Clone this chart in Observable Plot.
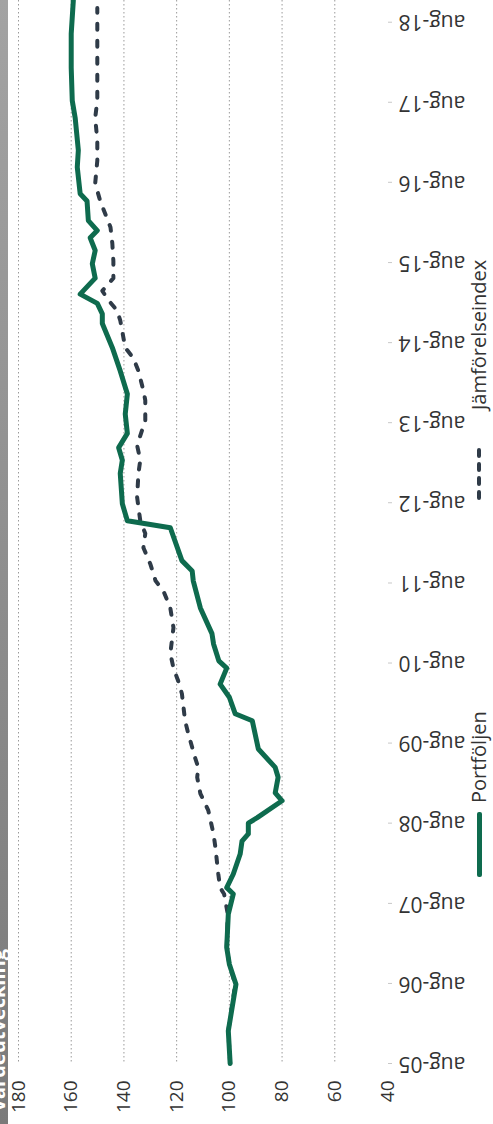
<!DOCTYPE html>
<html><head><meta charset="utf-8">
<script src="https://cdn.jsdelivr.net/npm/d3@7"></script>
<script src="https://cdn.jsdelivr.net/npm/@observablehq/plot@0.6"></script>
<style>
html,body{margin:0;padding:0;background:#fff;overflow:hidden;}
#wrap{position:relative;width:493px;height:1124px;font-family:"Open Sans",sans-serif;color:#333;}
#chart{position:absolute;left:0;top:0;}
#titlebar{position:absolute;left:0;top:0;width:8px;height:1124px;background:linear-gradient(#a3a3a3,#7a7a7a);overflow:hidden;z-index:3;}
#titlebar span{position:absolute;left:-15px;top:1112px;transform-origin:0 0;transform:rotate(-90deg);font-size:20px;line-height:26px;font-weight:bold;color:#fff;white-space:nowrap;}
.leg{position:absolute;transform-origin:0 0;transform:rotate(-90deg);display:flex;align-items:center;height:24px;white-space:nowrap;font-size:20px;line-height:24px;color:#333;}
svg [aria-label="y-axis tick"]{stroke:#c8c8c8;}
</style></head>
<body><div id="wrap">
<div id="chart"></div>
<div id="titlebar"><span>Värdeutveckling</span></div>
<div class="leg" style="left:467px;top:877px;">
  <span style="display:inline-block;width:65px;height:5px;background:#0e6b4e;border-radius:2px"></span>
  <span style="margin-left:9px">Portföljen</span>
</div>
<div class="leg" style="left:467px;top:500px;">
  <svg width="52" height="8"><line x1="2" y1="4" x2="50" y2="4" stroke="#2f3b48" stroke-width="4" stroke-dasharray="6,8" stroke-linecap="round"/></svg>
  <span style="margin-left:38px">Jämförelseindex</span>
</div>
</div>
<script>
const valueTicks = [180, 160, 140, 120, 100, 80, 60, 40];
const gridValues = [180, 160, 140, 120, 100, 80, 60];
const dateTickLabels = ["aug-05","aug-06","aug-07","aug-08","aug-09","aug-10","aug-11","aug-12","aug-13","aug-14","aug-15","aug-16","aug-17","aug-18"];

const portDates = ["2005-08-01","2005-12-28","2006-07-28","2006-10-28","2007-01-12","2007-06-13","2007-09-13","2007-10-12","2007-12-13","2008-03-13","2008-05-11","2008-06-13","2008-08-01","2008-08-26","2008-11-11","2008-12-17","2009-02-26","2009-04-12","2009-07-05","2009-11-11","2009-12-13","2010-02-26","2010-04-27","2010-07-09","2010-08-11","2010-10-27","2010-12-13","2011-04-09","2011-08-11","2011-09-25","2011-11-11","2012-04-09","2012-05-11","2012-07-27","2012-12-13","2013-02-11","2013-04-09","2013-06-13","2013-09-10","2013-12-10","2014-03-25","2014-07-09","2014-10-27","2014-12-10","2015-01-27","2015-03-10","2015-05-22","2015-07-27","2015-09-25","2015-11-22","2015-12-25","2016-02-08","2016-05-08","2016-06-10","2016-10-09","2016-12-25","2017-05-22","2017-08-08","2018-01-05","2018-06-10","2018-11-08"];
const portValues = [99.7,100.4,97.5,100,101,100.4,98.5,101,98.5,95.9,95.2,92.8,92.8,89.4,80,82.6,81.5,82.6,89,91.3,97.8,100,103.5,101,104,106,106.6,111,113.7,114.1,118,122.4,138.7,140.6,141.4,140.6,142,138.7,139.5,138.7,141.4,144.4,148.2,148.2,150.1,156.6,150.9,152,150.9,152.8,150.1,153.5,154,156.6,157.7,157.3,158.5,159.6,160,160,159.2];

const benchDates = ["2005-08-01","2005-12-28","2006-07-28","2006-10-28","2007-01-12","2007-06-13","2007-09-13","2007-10-12","2007-12-13","2008-04-13","2008-06-13","2008-09-28","2008-12-14","2009-02-26","2009-04-12","2009-05-26","2009-09-14","2009-11-11","2010-03-14","2010-05-11","2010-07-09","2010-09-14","2011-01-09","2011-04-09","2011-06-25","2011-08-11","2011-10-27","2012-01-09","2012-03-14","2012-05-11","2012-08-26","2012-12-13","2013-02-11","2013-04-20","2013-08-11","2013-11-11","2013-12-25","2014-03-25","2014-05-22","2014-07-09","2014-11-11","2014-12-25","2015-02-11","2015-03-25","2015-05-22","2015-08-08","2015-10-27","2016-01-09","2016-05-08","2016-07-27","2016-11-08","2017-02-08","2017-05-22","2017-08-08","2018-01-05","2018-06-10","2018-10-05"];
const benchValues = [99.7,100.4,97.8,100,101,100.6,102,103.5,104.2,105.3,106,108,111,112.2,111.8,113,115.6,116.8,118,119.4,121.2,122.4,121.2,122.4,125,128,130,132.6,131.9,133.8,135,134.5,133.8,135,131.9,131.9,132.6,134.5,136.4,139.5,141.4,142.6,145.9,148.2,144,144,144.4,145.1,149,150.9,150.1,150.1,150.9,150.1,150.1,150.1,150.1];

const parse = d3.utcParse("%Y-%m-%d");
const portfolio = portDates.map((d, i) => ({date: parse(d), value: portValues[i]}));
const benchmark = benchDates.map((d, i) => ({date: parse(d), value: benchValues[i]}));
const tickDates = dateTickLabels.map(s => new Date(Date.UTC(2000 + (+s.slice(4)), 7, 1)));
const labelByTime = new Map(tickDates.map((d, i) => [+d, dateTickLabels[i]]));

const chart = Plot.plot({
  width: 493,
  height: 1124,
  marginLeft: 18,
  marginRight: 106,
  marginTop: 0,
  marginBottom: 61,
  style: {fontFamily: "'Open Sans', sans-serif", fontSize: "19px", color: "#333", background: "#fff"},
  x: {domain: [180, 40]},
  y: {type: "utc", domain: [parse("2005-08-01"), parse("2018-11-08")]},
  marks: [
    Plot.ruleX(gridValues, {stroke: "#9a9a9a", strokeWidth: 1, strokeDasharray: "1.5,2.5"}),
    Plot.axisX(valueTicks, {anchor: "bottom", tickSize: 0, tickPadding: 17, tickRotate: -90, textAnchor: "end", lineAnchor: "middle", label: null, tickFormat: d => String(d)}),
    Plot.axisY(tickDates, {anchor: "right", tickSize: 4, tickPadding: 7, tickRotate: 180, textAnchor: "end", lineAnchor: "middle", label: null, fontSize: 21, tickFormat: d => labelByTime.get(+d)}),
    Plot.line(benchmark, {x: "value", y: "date", stroke: "#2f3b48", strokeWidth: 4, strokeDasharray: "6,11", strokeLinecap: "round", strokeLinejoin: "round"}),
    Plot.line(portfolio, {x: "value", y: "date", stroke: "#0e6b4e", strokeWidth: 5, strokeLinejoin: "round", strokeLinecap: "round"})
  ]
});
document.getElementById("chart").appendChild(chart);
</script>
</body></html>
